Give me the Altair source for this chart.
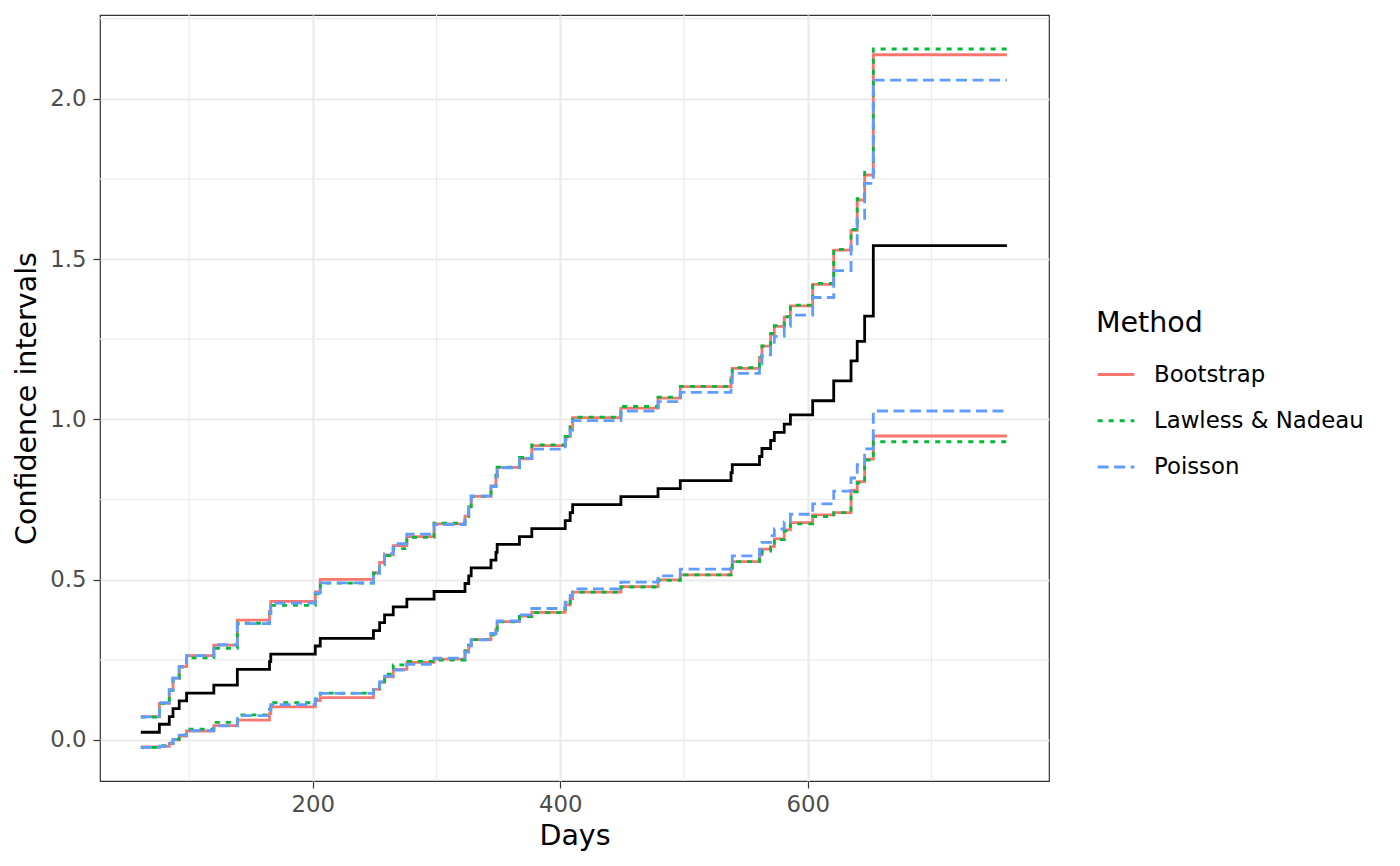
import altair as alt
import pandas as pd

# ---- data ----
days = [61, 76, 84, 87, 92, 98, 120, 139, 165, 166, 202, 206, 249, 254, 258, 265,
        276, 298, 323, 326, 328, 344, 348, 349, 367, 377, 404, 408, 410, 449, 479,
        497, 538, 539, 561, 563, 570, 573, 581, 586, 604, 621, 635, 640, 646, 653]
end_day = 761

mcf = [0.024, 0.049, 0.073, 0.098, 0.122, 0.146, 0.171, 0.220, 0.244, 0.268,
       0.293, 0.317, 0.341, 0.366, 0.390, 0.415, 0.439, 0.463, 0.488, 0.512,
       0.537, 0.561, 0.585, 0.610, 0.634, 0.659, 0.684, 0.709, 0.734, 0.759,
       0.784, 0.809, 0.834, 0.859, 0.884, 0.909, 0.934, 0.959, 0.985, 1.014,
       1.058, 1.120, 1.182, 1.243, 1.322, 1.542]

boot_upper = [0.073, 0.114, 0.156, 0.193, 0.229, 0.263, 0.296, 0.374, 0.402, 0.432,
              0.462, 0.501, 0.522, 0.554, 0.577, 0.606, 0.634, 0.674, 0.698, 0.728,
              0.760, 0.792, 0.822, 0.850, 0.877, 0.918, 0.946, 0.976, 1.005, 1.035,
              1.066, 1.102, 1.130, 1.159, 1.193, 1.228, 1.265, 1.290, 1.319, 1.354,
              1.421, 1.528, 1.589, 1.684, 1.762, 2.137]
boot_lower = [-0.022, -0.020, -0.011, 0.000, 0.012, 0.028, 0.045, 0.062, 0.082, 0.103,
              0.123, 0.132, 0.158, 0.180, 0.197, 0.220, 0.242, 0.252, 0.278, 0.296,
              0.313, 0.331, 0.345, 0.369, 0.386, 0.398, 0.421, 0.441, 0.461, 0.478,
              0.499, 0.515, 0.536, 0.556, 0.577, 0.595, 0.603, 0.627, 0.655, 0.678,
              0.702, 0.709, 0.778, 0.806, 0.876, 0.948]

ln_upper = [0.071, 0.114, 0.155, 0.192, 0.227, 0.256, 0.286, 0.364, 0.395, 0.420,
            0.456, 0.489, 0.520, 0.548, 0.575, 0.597, 0.632, 0.676, 0.697, 0.727,
            0.760, 0.791, 0.826, 0.851, 0.881, 0.920, 0.947, 0.977, 1.007, 1.040,
            1.069, 1.103, 1.132, 1.161, 1.194, 1.229, 1.268, 1.292, 1.320, 1.356,
            1.424, 1.530, 1.592, 1.688, 1.770, 2.155]
ln_lower = [-0.023, -0.018, -0.010, 0.002, 0.016, 0.034, 0.055, 0.078, 0.095, 0.116,
            0.128, 0.146, 0.160, 0.182, 0.205, 0.234, 0.245, 0.249, 0.278, 0.296,
            0.313, 0.328, 0.342, 0.368, 0.385, 0.397, 0.421, 0.441, 0.461, 0.477,
            0.498, 0.515, 0.536, 0.556, 0.575, 0.589, 0.600, 0.625, 0.652, 0.674,
            0.697, 0.709, 0.774, 0.802, 0.873, 0.930]

pois_upper = [0.072, 0.116, 0.156, 0.193, 0.229, 0.263, 0.297, 0.363, 0.395, 0.427,
              0.458, 0.490, 0.520, 0.551, 0.581, 0.612, 0.642, 0.672, 0.702, 0.731,
              0.761, 0.790, 0.820, 0.849, 0.878, 0.907, 0.937, 0.966, 0.996, 1.026,
              1.055, 1.084, 1.114, 1.143, 1.172, 1.201, 1.230, 1.259, 1.290, 1.325,
              1.380, 1.464, 1.547, 1.627, 1.736, 2.058]
pois_lower = [-0.023, -0.019, -0.010, 0.002, 0.015, 0.029, 0.044, 0.076, 0.093, 0.110,
              0.127, 0.145, 0.163, 0.181, 0.199, 0.218, 0.236, 0.255, 0.274, 0.293,
              0.312, 0.332, 0.351, 0.371, 0.390, 0.410, 0.430, 0.451, 0.471, 0.492,
              0.512, 0.533, 0.553, 0.574, 0.595, 0.616, 0.637, 0.658, 0.680, 0.704,
              0.736, 0.776, 0.817, 0.859, 0.908, 1.026]

methods = ["Bootstrap", "Lawless & Nadeau", "Poisson"]
method_colors = ["#F8766D", "#00BA38", "#619CFF"]
method_dashes = [[1, 0], [5, 6], [11, 5.5]]

x_major = [200, 400, 600]
x_minor = [100, 300, 500, 700]
y_major = [0.0, 0.5, 1.0, 1.5, 2.0]
y_minor = [0.25, 0.75, 1.25, 1.75, 2.25]

# ---- tables ----
bands = {"Bootstrap": (boot_lower, boot_upper),
         "Lawless & Nadeau": (ln_lower, ln_upper),
         "Poisson": (pois_lower, pois_upper)}
rows = []
for m in methods:
    lo, up = bands[m]
    for bound, vals in (("lower", lo), ("upper", up)):
        for d, v in zip(days + [end_day], vals + [vals[-1]]):
            rows.append({"Method": m, "bound": bound, "day": d, "value": v})
band_df = pd.DataFrame(rows)
mean_df = pd.DataFrame({"day": days + [end_day], "value": mcf + [mcf[-1]]})
xminor_df = pd.DataFrame({"v": x_minor})
yminor_df = pd.DataFrame({"v": y_minor})

FONT = "DejaVu Sans"
xscale = alt.Scale(domain=[28, 795], nice=False, zero=False)
yscale = alt.Scale(domain=[-0.128, 2.261], nice=False, zero=False)

xaxis = alt.Axis(values=x_major, title="Days", format="d")
yaxis = alt.Axis(values=y_major, title="Confidence intervals", format=".1f")

minor_x = alt.Chart(xminor_df).mark_rule(color="#EBEBEB", strokeWidth=1.2).encode(
    x=alt.X("v:Q", scale=xscale, axis=xaxis))
minor_y = alt.Chart(yminor_df).mark_rule(color="#EBEBEB", strokeWidth=1.2).encode(
    y=alt.Y("v:Q", scale=yscale, axis=yaxis))

legend = alt.Legend(title="Method", orient="none", legendX=996, legendY=294,
                    symbolType="stroke", symbolSize=1347, symbolStrokeWidth=3,
                    labelFontSize=22.8, titleFontSize=28.5, titleFontWeight="normal",
                    labelFont=FONT, titleFont=FONT, labelColor="black", titleColor="black",
                    labelLimit=0, rowPadding=14.2, titlePadding=17, labelOffset=18, padding=0)

band_lines = alt.Chart(band_df).mark_line(interpolate="step-after", strokeWidth=2.8).encode(
    x=alt.X("day:Q", scale=xscale, axis=xaxis),
    y=alt.Y("value:Q", scale=yscale, axis=yaxis),
    color=alt.Color("Method:N", scale=alt.Scale(domain=methods, range=method_colors), legend=legend),
    strokeDash=alt.StrokeDash("Method:N", scale=alt.Scale(domain=methods, range=method_dashes), legend=legend),
    detail="bound:N",
)

mean_line = alt.Chart(mean_df).mark_line(interpolate="step-after", strokeWidth=2.8, color="black").encode(
    x=alt.X("day:Q", scale=xscale, axis=xaxis),
    y=alt.Y("value:Q", scale=yscale, axis=yaxis),
)

chart = alt.layer(minor_x, minor_y, band_lines, mean_line).properties(
    width=949, height=766,
    autosize=alt.AutoSizeParams(type="none"),
    padding={"left": 92, "top": 7, "right": 335, "bottom": 72},
).configure_view(
    stroke="#333333", strokeWidth=1.2
).configure_axis(
    labelFont=FONT, titleFont=FONT, labelFontSize=22.8, titleFontSize=28.5,
    labelColor="#4D4D4D", titleColor="black", titleFontWeight="normal",
    tickColor="#333333", tickSize=7, tickWidth=1.2, domain=False,
    gridColor="#EBEBEB", gridWidth=2.2,
).configure_axisX(labelPadding=5, titlePadding=6).configure_axisY(labelPadding=7, titlePadding=8)

chart.save("out.html", embed_options={"renderer": "svg", "actions": False})
